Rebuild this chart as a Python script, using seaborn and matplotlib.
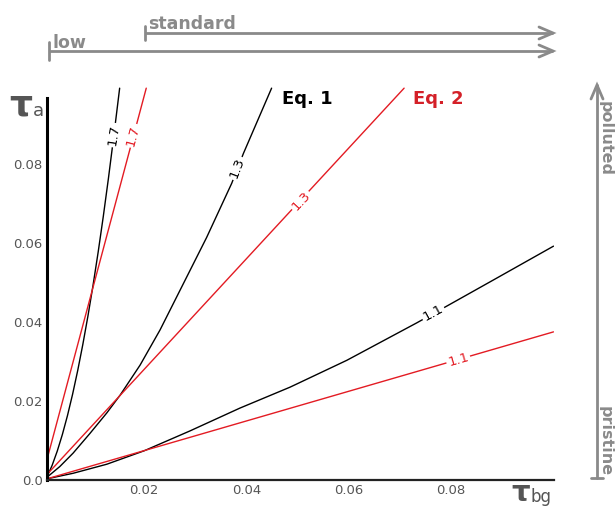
import matplotlib
matplotlib.use("Agg")
import matplotlib.pyplot as plt
import seaborn as sns
from matplotlib.lines import Line2D

# ---------------- data ----------------
eq1_17_x = [0.001, 0.002, 0.003, 0.004, 0.005, 0.006, 0.007, 0.008, 0.009, 0.010, 0.011, 0.012, 0.013, 0.014, 0.0152]
eq1_17_y = [0.0008, 0.0037, 0.0073, 0.0115, 0.0163, 0.0217, 0.0277, 0.0343, 0.0415, 0.0493, 0.0577, 0.0667, 0.0763, 0.0865, 0.0992]

eq1_13_x = [0.001, 0.0035, 0.0061, 0.0094, 0.0127, 0.0153, 0.0192, 0.0231, 0.0280, 0.0322, 0.0371, 0.0394, 0.0449]
eq1_13_y = [0.0007, 0.0034, 0.0068, 0.0118, 0.0170, 0.0215, 0.0291, 0.0380, 0.0506, 0.0614, 0.0751, 0.0827, 0.0992]

eq1_11_x = [0.001, 0.0061, 0.0127, 0.0200, 0.0289, 0.0387, 0.0485, 0.0596, 0.0733, 0.0798, 0.0882, 0.1000]
eq1_11_y = [0.0003, 0.0017, 0.0040, 0.0074, 0.0124, 0.0182, 0.0235, 0.0303, 0.0398, 0.0445, 0.0506, 0.0592]

eq2_17_x = [0.001, 0.0204]
eq2_17_y = [0.0052, 0.0992]
eq2_13_x = [0.001, 0.0708]
eq2_13_y = [0.0014, 0.0992]
eq2_11_x = [0.001, 0.1000]
eq2_11_y = [0.0003, 0.0375]

contour_levels = ["1.7", "1.3", "1.1"]
# label positions along each curve (x, y, rotation)
eq1_label_pos = [(0.0141, 0.0873, 81), (0.0382, 0.0789, 69), (0.0765, 0.0422, 29)]
eq2_label_pos = [(0.01775, 0.0872, 75), (0.0506, 0.0707, 47), (0.0814, 0.0304, 16)]

x_ticks = [0.02, 0.04, 0.06, 0.08]
x_tick_labels = ["0.02", "0.04", "0.06", "0.08"]
y_ticks = [0.0, 0.02, 0.04, 0.06, 0.08]
y_tick_labels = ["0.0", "0.02", "0.04", "0.06", "0.08"]

BLACK = "#000000"
RED = "#e31b23"
GREY = "#8a8a8a"
TICKGREY = "#555555"

sns.set_style("white")
plt.rcParams["font.family"] = ["DejaVu Sans"]

W, H = 615, 507
fig = plt.figure(figsize=(W / 100, H / 100), dpi=100)
ax = fig.add_axes([47 / W, 27 / H, 506.5 / W, 395 / H])

for xs, ys in [(eq1_17_x, eq1_17_y), (eq1_13_x, eq1_13_y), (eq1_11_x, eq1_11_y)]:
    sns.lineplot(x=xs, y=ys, ax=ax, color=BLACK, lw=1.0, sort=False, estimator=None)
for xs, ys in [(eq2_17_x, eq2_17_y), (eq2_13_x, eq2_13_y), (eq2_11_x, eq2_11_y)]:
    sns.lineplot(x=xs, y=ys, ax=ax, color=RED, lw=1.0, sort=False, estimator=None)

for lev, (lx, ly, rot) in zip(contour_levels, eq1_label_pos):
    ax.text(lx, ly, lev, color=BLACK, fontsize=9.5, rotation=rot, ha="center", va="center",
            rotation_mode="anchor", bbox=dict(fc="white", ec="none", pad=1.2), zorder=5)
for lev, (lx, ly, rot) in zip(contour_levels, eq2_label_pos):
    ax.text(lx, ly, lev, color=RED, fontsize=9.5, rotation=rot, ha="center", va="center",
            rotation_mode="anchor", bbox=dict(fc="white", ec="none", pad=1.2), zorder=5)

ax.set_xlim(0.001, 0.1)
ax.set_ylim(0, 0.1)
ax.set_xticks(x_ticks)
ax.set_xticklabels(x_tick_labels)
ax.set_yticks(y_ticks)
ax.set_yticklabels(y_tick_labels)
ax.tick_params(direction="in", length=4, width=1, color=BLACK, labelcolor=TICKGREY, labelsize=9.5, pad=3)
for s in ["top", "right"]:
    ax.spines[s].set_visible(False)
ax.spines["left"].set_linewidth(2.2)
ax.spines["left"].set_color(BLACK)
ax.spines["left"].set_bounds(0, 0.0966)
ax.spines["bottom"].set_linewidth(1.6)
ax.spines["bottom"].set_color("#222222")
ax.set_xlabel("")
ax.set_ylabel("")


def fx(px):
    return px / W


def fy(py):
    return 1 - py / H


# axis symbols
fig.text(fx(21), fy(115), "τ", fontsize=26, fontweight="bold", color=TICKGREY, ha="center", va="baseline")
fig.text(fx(33), fy(116), "a", fontsize=13, color=TICKGREY, ha="left", va="baseline")
fig.text(fx(521), fy(501), "τ", fontsize=21, fontweight="bold", color=TICKGREY, ha="center", va="baseline")
fig.text(fx(531), fy(502), "bg", fontsize=12, color=TICKGREY, ha="left", va="baseline")

# legend-like labels
fig.text(fx(282), fy(104), "Eq. 1", fontsize=13, fontweight="bold", color=BLACK, ha="left", va="baseline")
fig.text(fx(413), fy(104), "Eq. 2", fontsize=13, fontweight="bold", color="#d42028", ha="left", va="baseline")


def harrow(x0, x1, y, bar_half):
    fig.add_artist(Line2D([fx(x0), fx(x1)], [fy(y), fy(y)], color=GREY, lw=2.0, solid_capstyle="butt"))
    fig.add_artist(Line2D([fx(x0), fx(x0)], [fy(y - bar_half), fy(y + bar_half)], color=GREY, lw=2.0))
    fig.add_artist(Line2D([fx(x1 - 14), fx(x1), fx(x1 - 14)], [fy(y - 6), fy(y), fy(y + 6)],
                          color=GREY, lw=2.0, solid_joinstyle="miter"))


def varrow(x, y0, y1, bar_half):
    fig.add_artist(Line2D([fx(x), fx(x)], [fy(y0), fy(y1)], color=GREY, lw=2.0))
    fig.add_artist(Line2D([fx(x - bar_half), fx(x + bar_half)], [fy(y0), fy(y0)], color=GREY, lw=2.0))
    fig.add_artist(Line2D([fx(x - 6), fx(x), fx(x + 6)], [fy(y1 + 14), fy(y1), fy(y1 + 14)],
                          color=GREY, lw=2.0, solid_joinstyle="miter"))


harrow(49, 553, 51, 9)
harrow(145, 553, 33, 7)
fig.text(fx(53), fy(48), "low", fontsize=12.5, fontweight="bold", color=GREY, ha="left", va="baseline")
fig.text(fx(148), fy(29), "standard", fontsize=12.5, fontweight="bold", color=GREY, ha="left", va="baseline")

varrow(597, 478, 85, 6)
fig.text(fx(605.5), fy(101), "polluted", fontsize=11.5, fontweight="bold", color=GREY, rotation=-90,
         ha="center", va="top")
fig.text(fx(605.5), fy(476), "pristine", fontsize=11.5, fontweight="bold", color=GREY, rotation=-90,
         ha="center", va="bottom")

fig.savefig("out.png", dpi=100)
